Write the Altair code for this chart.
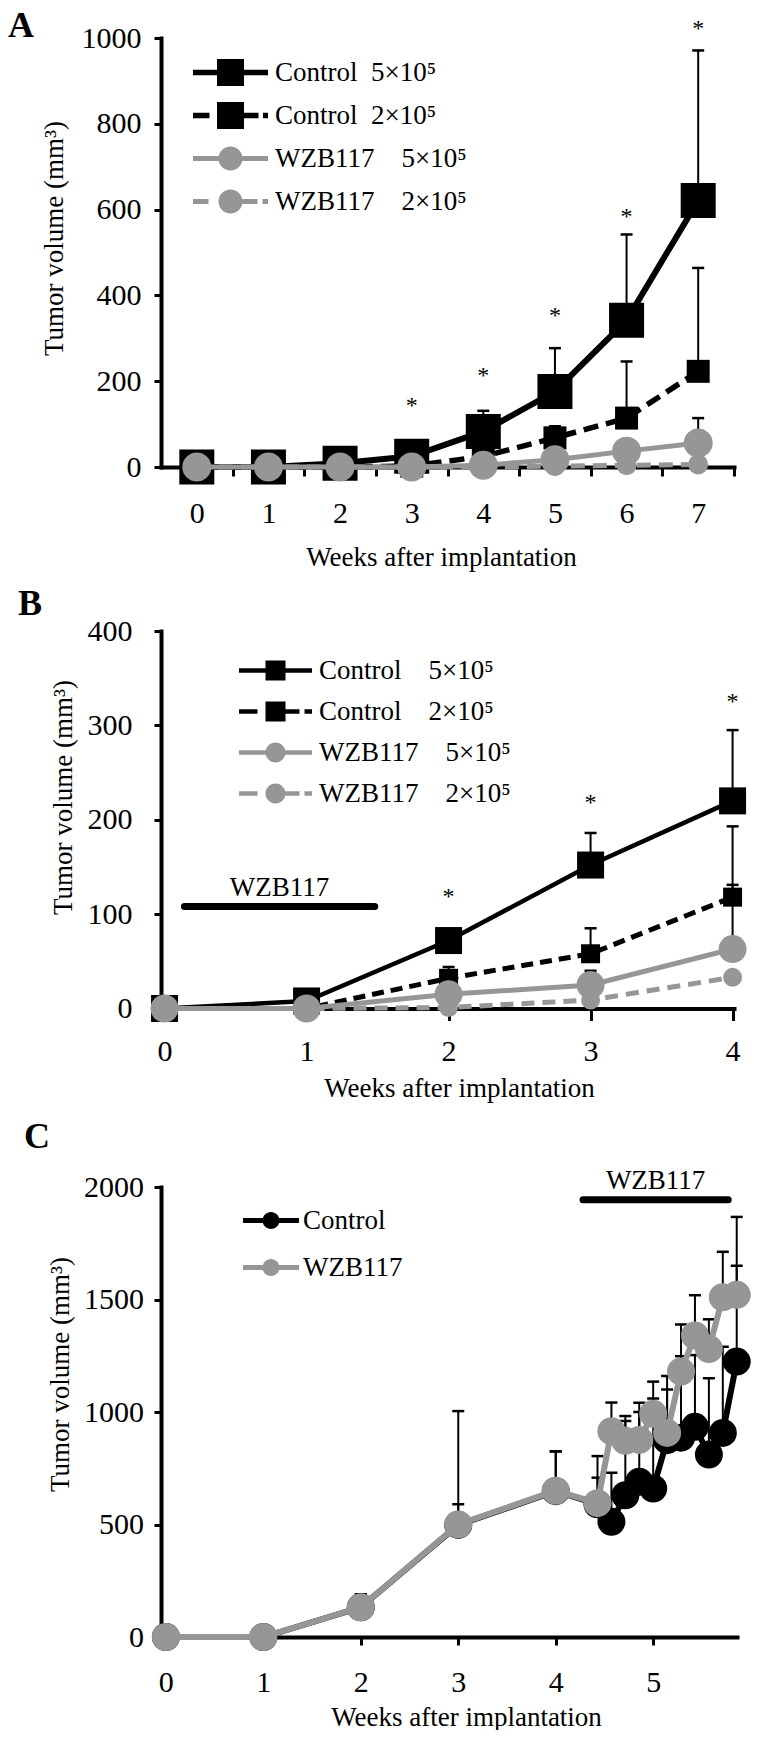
import altair as alt
import pandas as pd

FONT = "Liberation Serif"
BLACK = "#000000"
GRAY = "#969696"

# ---------------- Panel A data ----------------
a_weeks = [0, 1, 2, 3, 4, 5, 6, 7]
a_names = ["Control\u00a0\u00a05×10⁵", "Control\u00a0\u00a02×10⁵",
           "WZB117\u00a0\u00a0\u00a0\u00a05×10⁵", "WZB117\u00a0\u00a0\u00a0\u00a02×10⁵"]
a_ctrl5 = [0, 0, 9, 25, 83, 176, 342, 621]
a_ctrl5_upper = [0, 0, 12, 35, 131, 277, 542, 971]
a_ctrl2 = [0, 0, 0, 2, 25, 68, 114, 223]
a_ctrl2_upper = [0, 0, 0, 3, 35, 95, 246, 464]
a_wzb5 = [0, 0, 0, 0, 4, 17, 37, 56]
a_wzb5_upper = [0, 0, 0, 0, 6, 25, 50, 114]
a_wzb2 = [0, 0, 0, 0, 0, 2, 4, 6]
a_wzb2_upper = [0, 0, 0, 0, 0, 2, 4, 6]
a_star_weeks = [3, 4, 5, 6, 7]
a_star_heights = [153, 224, 363, 594, 1032]
a_y_ticks = [0, 200, 400, 600, 800, 1000]

# ---------------- Panel B data ----------------
b_weeks = [0, 1, 2, 3, 4]
b_names = ["Control\u00a0\u00a0\u00a0\u00a05×10⁵", "Control\u00a0\u00a0\u00a0\u00a02×10⁵",
           "WZB117\u00a0\u00a0\u00a0\u00a05×10⁵", "WZB117\u00a0\u00a0\u00a0\u00a02×10⁵"]
b_ctrl5 = [0, 8, 72, 152, 220]
b_ctrl5_upper = [0, 8, 78, 186, 295]
b_ctrl2 = [0, 0, 32, 58, 118]
b_ctrl2_upper = [0, 0, 44, 85, 193]
b_wzb5 = [0, 0, 15, 25, 63]
b_wzb5_upper = [0, 0, 18, 40, 131]
b_wzb2 = [0, 0, 1, 9, 33]
b_wzb2_upper = [0, 0, 1, 12, 36]
b_star_weeks = [2, 3, 4]
b_star_heights = [123, 223, 330]
b_treatment = [0.14, 1.48]
b_treatment_level = 108
b_y_ticks = [0, 100, 200, 300, 400]

# ---------------- Panel C data ----------------
c_days = [0, 7, 14, 21, 28, 31, 32, 33, 34, 35, 36, 37, 38, 39, 40, 41]
c_names = ["Control", "WZB117"]
c_ctrl = [0, 0, 132, 498, 648, 590, 512, 630, 690, 660, 875, 886, 934, 811, 907, 1224]
c_ctrl_upper = [0, 0, 190, 590, 825, 708, 730, 960, 1000, 1060, 1160, 1248, 1253, 1150, 1290, 1650]
c_wzb = [0, 0, 132, 500, 650, 595, 915, 872, 876, 992, 907, 1180, 1340, 1280, 1510, 1521]
c_wzb_upper = [0, 0, 190, 1004, 825, 804, 1042, 982, 1041, 1135, 1100, 1389, 1519, 1412, 1712, 1867]
c_treatment = [4.28, 5.77]
c_treatment_level = 1943
c_y_ticks = [0, 500, 1000, 1500, 2000]
c_x_ticks = [0, 1, 2, 3, 4, 5]


def long_df(xs, names, values, uppers):
    rows = []
    for k, (name, vals, ups) in enumerate(zip(names, values, uppers)):
        for xi, v, u in zip(xs, vals, ups):
            rows.append({"x": xi, "v": v, "up": u, "s": name, "k": k})
    return pd.DataFrame(rows)


def axis(**kw):
    base = dict(domainColor=BLACK, domainWidth=4, domainCap="square", tickColor=BLACK, tickWidth=3,
                grid=False, labelFont=FONT, labelFontSize=30, labelColor=BLACK, titleFont=FONT,
                titleFontSize=27, titleFontWeight="normal", titleColor=BLACK, format="d",
                labelFlush=False, labelOverlap=False)
    base.update(kw)
    return alt.Axis(**base)


def rect(x1, x2, h, u=13.5):
    return f"M{x1/u:.3f},{-h/2/u:.3f}H{x2/u:.3f}V{h/2/u:.3f}H{x1/u:.3f}Z"


def square(s, u=13.5):
    return rect(-s, s, 2 * s, u)


def circ(r, u=13.5):
    rr = r / u
    return f"M{-rr:.3f},0A{rr:.3f},{rr:.3f} 0 1,1 {rr:.3f},0A{rr:.3f},{rr:.3f} 0 1,1 {-rr:.3f},0Z"


def make_panel(df, names, styles, xdom, xaxis, ydom, yaxis, width, height, leg, leg_paths, leg_colors,
               letter, letter_xy, stars=None, treat=None):
    def X(f):
        return alt.X(f"{f}:Q", scale=alt.Scale(domain=xdom, nice=False, zero=False), axis=xaxis)

    def Y(f):
        return alt.Y(f"{f}:Q", scale=alt.Scale(domain=ydom, nice=False, zero=False), axis=yaxis)

    base = alt.Chart(df)
    layers = []
    errs = base.transform_filter("datum.up > datum.v")
    layers.append(errs.mark_rule(color=BLACK, strokeWidth=2).encode(x=X("x"), y=Y("v"), y2=alt.Y2("up")))
    layers.append(errs.mark_point(shape="M-1,0H1", size=144, filled=False, color=BLACK,
                                  strokeWidth=2.5, opacity=1).encode(x=X("x"), y=Y("up")))
    for k, st in enumerate(styles):
        sub = base.transform_filter(alt.datum.k == k)
        kw = dict(color=st["color"], strokeWidth=st["width"], strokeCap="butt")
        if st.get("dash"):
            kw["strokeDash"] = st["dash"]
        layers.append(sub.mark_line(**kw).encode(x=X("x"), y=Y("v")))
        layers.append(sub.mark_point(shape=st["shape"], size=st["size"], filled=True,
                                     color=st["color"], opacity=1).encode(x=X("x"), y=Y("v")))
    # legend (invisible points carry the legend)
    layers.append(base.mark_point(filled=True, opacity=0).encode(
        x=X("x"), y=Y("v"),
        shape=alt.Shape("s:N", scale=alt.Scale(domain=names, range=leg_paths), legend=leg),
        color=alt.Color("s:N", scale=alt.Scale(domain=names, range=leg_colors), legend=leg)))
    if stars is not None:
        layers.append(alt.Chart(stars).mark_text(text="*", font=FONT, fontSize=24, baseline="alphabetic",
                                                 dy=12, color=BLACK).encode(x=X("x"), y=Y("h")))
    if treat is not None:
        tc = alt.Chart(treat)
        layers.append(tc.mark_rule(color=BLACK, strokeWidth=7, strokeCap="round").encode(
            x=X("start"), x2=alt.X2("end"), y=Y("lvl")))
        layers.append(tc.transform_calculate(mid="(datum.start + datum.end) / 2").mark_text(
            font=FONT, fontSize=27, baseline="alphabetic", dy=-11, color=BLACK).encode(
            x=X("mid"), y=Y("lvl"), text="label:N"))
    layers.append(alt.Chart(pd.DataFrame({"t": [letter]})).mark_text(
        font=FONT, fontSize=36, fontWeight="bold", align="left", baseline="top", color=BLACK).encode(
        text="t:N", x=alt.value(letter_xy[0]), y=alt.value(letter_xy[1])))
    return alt.layer(*layers).properties(width=width, height=height)


def legend(lx, ly, lo, rp):
    return alt.Legend(title=None, orient="none", legendX=lx, legendY=ly, symbolSize=729, symbolOpacity=1,
                      symbolStrokeWidth=0, labelFont=FONT, labelFontSize=27, labelColor=BLACK,
                      labelOffset=lo, labelLimit=600, rowPadding=rp, padding=0, direction="vertical")


# ---------------- Panel A ----------------
A_W, A_H = 573, 429
a_step = A_W / 8
df_a = long_df(a_weeks, a_names, [a_ctrl5, a_ctrl2, a_wzb5, a_wzb2],
               [a_ctrl5_upper, a_ctrl2_upper, a_wzb5_upper, a_wzb2_upper])
a_styles = [
    dict(color=BLACK, width=6, shape="square", size=1225),
    dict(color=BLACK, width=5.5, dash=[15, 8], shape="square", size=529),
    dict(color=GRAY, width=5, shape="circle", size=841),
    dict(color=GRAY, width=5, dash=[14, 8], shape="circle", size=400),
]
a_paths = [
    rect(-37.5, -13, 5.5) + square(13.5) + rect(13, 37.5, 5.5),
    rect(-37.5, -21, 5.5) + square(13.5) + rect(13, 28, 5.5) + rect(32.5, 37.5, 5.5),
    rect(-37.5, -11, 5) + circ(12) + rect(11, 37.5, 5),
    rect(-37.5, -22, 5) + circ(12) + rect(11, 27, 5) + rect(32, 37.5, 5),
]
a_x_axis = axis(values=a_weeks, tickOffset=a_step / 2, labelOffset=-a_step / 2, tickSize=9,
                labelPadding=37, labelBaseline="middle", title="Weeks after implantation",
                titleX=280, titleY=90, titleAlign="center", titleBaseline="middle")
a_y_axis = axis(values=a_y_ticks, tickSize=7, labelPadding=13, title="Tumor volume (mm³)",
                titleAngle=270, titleX=-106.5, titleY=200, titleAlign="center", titleBaseline="middle")
panel_a = make_panel(df_a, a_names, a_styles, [-0.5, 7.5], a_x_axis, [0, 1000], a_y_axis, A_W, A_H,
                     legend(56, 21, 31, 15), a_paths, [BLACK, BLACK, GRAY, GRAY], "A", (-153, -29),
                     stars=pd.DataFrame({"x": a_star_weeks, "h": a_star_heights}))

# ---------------- Panel B ----------------
B_W, B_H = 573, 377.5
df_b = long_df(b_weeks, b_names, [b_ctrl5, b_ctrl2, b_wzb5, b_wzb2],
               [b_ctrl5_upper, b_ctrl2_upper, b_wzb5_upper, b_wzb2_upper])
b_styles = [
    dict(color=BLACK, width=4.5, shape="square", size=729),
    dict(color=BLACK, width=5, dash=[12, 7], shape="square", size=361),
    dict(color=GRAY, width=5, shape="circle", size=784),
    dict(color=GRAY, width=5, dash=[13, 8], shape="circle", size=361),
]
b_paths = [
    rect(-36.5, -10, 4.5) + square(10) + rect(10, 36.5, 4.5),
    rect(-36.5, -18, 4.5) + square(10) + rect(10, 24, 4.5) + rect(29, 36.5, 4.5),
    rect(-36.5, -9, 4.5) + circ(10) + rect(9, 36.5, 4.5),
    rect(-36.5, -18, 4.5) + circ(10) + rect(9, 24, 4.5) + rect(29, 36.5, 4.5),
]
b_x_axis = axis(values=b_weeks, tickSize=12, labelPadding=31, labelBaseline="middle",
                title="Weeks after implantation", titleX=298, titleY=80, titleAlign="center",
                titleBaseline="middle")
b_y_axis = axis(values=b_y_ticks, tickSize=7, labelPadding=22, title="Tumor volume (mm³)",
                titleAngle=270, titleX=-97.5, titleY=166, titleAlign="center", titleBaseline="middle")
panel_b = make_panel(df_b, b_names, b_styles, [-0.025, 4.01], b_x_axis, [0, 400], b_y_axis, B_W, B_H,
                     legend(101, 26, 30, 13), b_paths, [BLACK, BLACK, GRAY, GRAY], "B", (-143, -44),
                     stars=pd.DataFrame({"x": b_star_weeks, "h": b_star_heights}),
                     treat=pd.DataFrame({"start": [b_treatment[0]], "end": [b_treatment[1]],
                                         "lvl": [b_treatment_level], "label": ["WZB117"]}))

# ---------------- Panel C ----------------
C_W, C_H = 576, 450
c_weeks = [d / 7 for d in c_days]
df_c = long_df(c_weeks, c_names, [c_ctrl, c_wzb], [c_ctrl_upper, c_wzb_upper])
c_styles = [
    dict(color=BLACK, width=6, shape="circle", size=784),
    dict(color=GRAY, width=6, shape="circle", size=784),
]
c_paths = [
    rect(-28, -7.5, 5) + circ(8.5) + rect(7.5, 28, 5),
    rect(-28, -7.5, 5) + circ(8.5) + rect(7.5, 28, 5),
]
c_x_axis = axis(values=c_x_ticks, tickSize=8, labelPadding=37, labelBaseline="middle",
                title="Weeks after implantation", titleX=305, titleY=80, titleAlign="center",
                titleBaseline="middle")
c_y_axis = axis(values=c_y_ticks, tickSize=7, labelPadding=10.5, title="Tumor volume (mm³)",
                titleAngle=270, titleX=-101, titleY=187, titleAlign="center", titleBaseline="middle")
panel_c = make_panel(df_c, c_names, c_styles, [-0.05, 5.86], c_x_axis, [0, 2000], c_y_axis, C_W, C_H,
                     legend(96.5, 20, 18.5, 19), c_paths, [BLACK, GRAY], "C", (-137, -67.3),
                     treat=pd.DataFrame({"start": [c_treatment[0]], "end": [c_treatment[1]],
                                         "lvl": [c_treatment_level], "label": ["WZB117"]}))

chart = alt.concat(panel_a, panel_b, panel_c, columns=1, spacing=16, align="none").resolve_scale(
    color="independent", shape="independent").configure_view(stroke=None).properties(
    padding=0, background="white")

chart.save("out.html", embed_options={"renderer": "svg", "actions": False})
